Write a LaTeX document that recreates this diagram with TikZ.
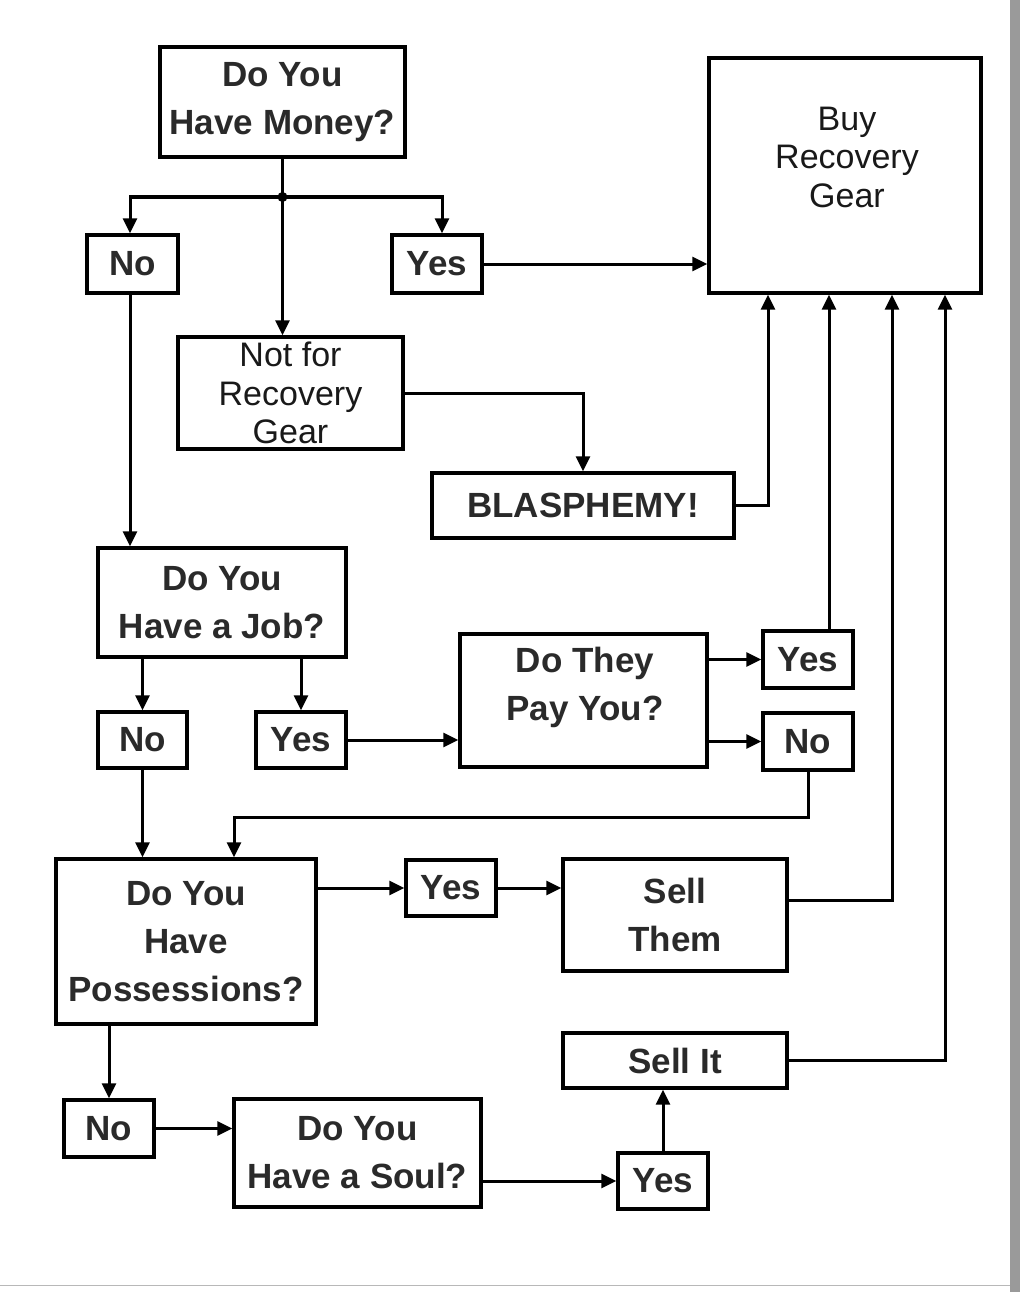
\documentclass[tikz,border=0pt]{standalone}
\usepackage{fontspec}
\setmainfont{Liberation Sans}
\usetikzlibrary{arrows.meta}
\definecolor{txt}{HTML}{2A2A2A}
\definecolor{edge}{HTML}{9A9A9A}
\tikzset{
  box/.style={draw=black, line width=3.4pt, fill=white, inner sep=0pt, align=center,
    text=txt, font=\bfseries\fontsize{35}{48}\selectfont},
  regbox/.style={box, text=black!90, font=\fontsize{34}{38.5}\selectfont},
  lbl/.style={inner sep=0pt, align=center, text=txt},
  conn/.style={line width=3pt, draw=black},
  arr/.style={conn, -{Triangle[length=15pt,width=14pt]}},
}
\begin{document}
\begin{tikzpicture}[x=1pt,y=-1pt]
\useasboundingbox (0,0) rectangle (1020,1292);
\fill[white] (0,0) rectangle (1020,1292);
\fill[edge] (1010,0) rectangle (1020,1292);
\draw[edge!70, line width=1.5pt] (0,1285.5) -- (1010,1285.5);

% boxes
\node[box, minimum width=245, minimum height=110] (money) at (282.5,102) {Do You\\Have Money?};
\node[box, minimum width=91, minimum height=58] (no1) at (132.5,264) {No};
\node[box, minimum width=90, minimum height=58] (yes1) at (437,264) {Yes};
\node[box, minimum width=272, minimum height=235] (buy) at (845,175.5) {};
\node[lbl, text=black!90, font=\fontsize{34}{38.5}\selectfont] (buytxt) at (847,157) {Buy\\Recovery\\Gear};
\node[regbox, minimum width=225, minimum height=112] (notfor) at (290.5,393) {Not for\\Recovery\\Gear};
\node[box, minimum width=302, minimum height=65] (blas) at (583,505.5) {BLASPHEMY!};
\node[box, minimum width=248, minimum height=109] (job) at (222,602.5) {Do You\\Have a Job?};
\node[box, minimum width=89, minimum height=56] (no2) at (142.5,740) {No};
\node[box, minimum width=90, minimum height=56] (yes2) at (301,740) {Yes};
\node[box, minimum width=247, minimum height=133] (pay) at (583.5,700.5) {};
\node[lbl, font=\bfseries\fontsize{35}{48}\selectfont] (paytxt) at (585,687) {Do They\\Pay You?};
\node[box, minimum width=90, minimum height=57] (yes3) at (808,659.5) {Yes};
\node[box, minimum width=90, minimum height=57] (no3) at (808,741.5) {No};
\node[box, minimum width=260, minimum height=165] (poss) at (186,941.5) {Do You\\Have\\Possessions?};
\node[box, minimum width=90, minimum height=56] (yes4) at (451,888) {Yes};
\node[box, minimum width=224, minimum height=112] (sellthem) at (675,915) {Sell\\Them};
\node[box, minimum width=224, minimum height=55] (sellit) at (675,1060.5) {Sell It};
\node[box, minimum width=90, minimum height=57] (no4) at (109,1128.5) {No};
\node[box, minimum width=247, minimum height=108] (soul) at (357.5,1153) {Do You\\Have a Soul?};
\node[box, minimum width=90, minimum height=56] (yes5) at (663,1181) {Yes};

% connectors
\coordinate (jn) at (282.5,197);
\draw[conn] (money.south) -- (jn);
\draw[arr] (jn) -| ([xshift=-2.5pt]no1.north);
\draw[arr] (jn) -| ([xshift=5pt]yes1.north);
\draw[arr] (jn) -- (jn |- notfor.north);
\fill (jn) circle (5);
\draw[arr] (yes1.east) -- (yes1.east -| buy.west);
\draw[arr] ([xshift=-2.5pt]no1.south) -- ([xshift=-2.5pt]no1.south |- job.north);
\draw[arr] (notfor.east) -| (blas.north);
\draw[arr] (blas.east) -| ([xshift=-77pt]buy.south);
\draw[arr] (no2.north |- job.south) -- (no2.north);
\draw[arr] (yes2.north |- job.south) -- (yes2.north);
\draw[arr] (yes2.east) -- (yes2.east -| pay.west);
\draw[arr] (pay.east |- yes3) -- (yes3.west);
\draw[arr] (pay.east |- no3) -- (no3.west);
\draw[arr] ([xshift=21pt]yes3.north) -- ([xshift=21pt]yes3.north |- buy.south);
\coordinate (turn) at (808,817);
\draw[arr] (no3.south) -- (turn) -| ([xshift=48pt]poss.north);
\draw[arr] (no2.south) -- (no2.south |- poss.north);
\draw[arr] (poss.east |- yes4) -- (yes4.west);
\draw[arr] (yes4.east) -- (yes4.east -| sellthem.west);
\draw[arr] ([yshift=15pt]sellthem.east) -| ([xshift=47pt]buy.south);
\draw[arr] (sellit.east) -| ([xshift=100pt]buy.south);
\draw[arr] (poss.south -| no4.north) -- (no4.north);
\draw[arr] (no4.east) -- (no4.east -| soul.west);
\draw[arr] (soul.east |- yes5) -- (yes5.west);
\draw[arr] (yes5.north) -- (yes5.north |- sellit.south);
\end{tikzpicture}
\end{document}
